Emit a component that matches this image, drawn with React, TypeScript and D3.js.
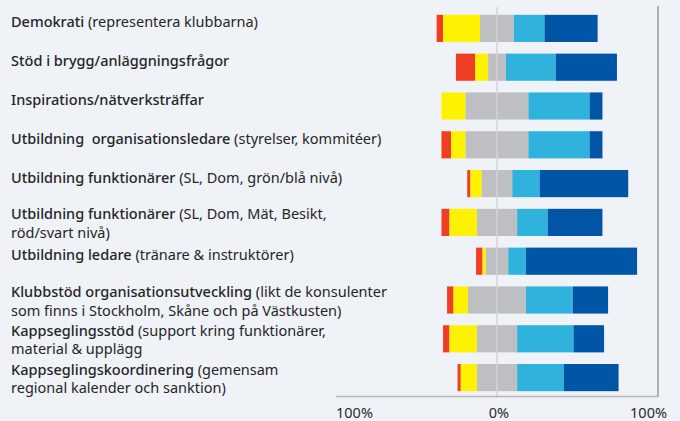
import * as d3 from 'd3'

const W = 680, H = 421

// each row: bold lead, regular rest, optional second line
const labelBold = [
  'Demokrati',
  'Stöd i brygg/anläggningsfrågor',
  'Inspirations/nätverksträffar',
  'Utbildning  organisationsledare',
  'Utbildning funktionärer',
  'Utbildning funktionärer',
  'Utbildning ledare',
  'Klubbstöd organisationsutveckling',
  'Kappseglingsstöd',
  'Kappseglingskoordinering',
]
const labelRest = [
  ' (representera klubbarna)',
  '',
  '',
  ' (styrelser, kommitéer)',
  ' (SL, Dom, grön/blå nivå)',
  ' (SL, Dom, Mät, Besikt,',
  ' (tränare & instruktörer)',
  ' (likt de konsulenter',
  ' (support kring funktionärer,',
  ' (gemensam',
]
const labelLine2 = [
  '', '', '', '', '',
  'röd/svart nivå)',
  '',
  'som finns i Stockholm, Skåne och på Västkusten)',
  'material & upplägg',
  'regional kalender och sanktion)',
]

// percent shares per row
const veryLow  = [4, 12, 0, 6, 2, 5, 4, 4, 4, 2]
const low      = [23, 8, 15, 9, 7, 17, 2, 9, 17, 10]
const neutral  = [21, 11, 39, 39, 19, 25, 14, 36, 25, 25]
const high     = [19, 31, 38, 38, 17, 19, 11, 29, 35, 29]
const veryHigh = [33, 38, 8, 8, 55, 34, 69, 22, 19, 34]

const seriesColors = ['#f03e25', '#fff200', '#bebfc3', '#2fb2dc', '#0055a6']
const tickLabels = ['100%', '0%', '100%']

const FONT = '"Noto Sans", sans-serif'

export default function App() {
  const x = d3.scaleLinear([-100, 100], [336, 658])
  const y = d3.scaleBand<number>(d3.range(labelBold.length), [9, 397]).paddingInner(0.3).paddingOuter(0.15)
  const bh = y.bandwidth()

  const rows = labelBold.map((_, i) => {
    const vals = [veryLow[i], low[i], neutral[i], high[i], veryHigh[i]]
    let start = -(veryLow[i] + low[i] + neutral[i] / 2)
    const segs = vals.map((v, k) => {
      const s = { x0: start, x1: start + v, color: seriesColors[k] }
      start += v
      return s
    })
    return { i, segs }
  })

  return (
    <div style={{ position: 'fixed', left: 0, top: 0 }}>
      <svg width={W} height={H} style={{ display: 'block', background: '#eff2f7' }}>
        {/* bars */}
        {rows.map((r) =>
          r.segs.filter((s) => s.x1 > s.x0).map((s, k) => (
            <rect key={r.i + '-' + k} x={x(s.x0)} y={y(r.i)} width={x(s.x1) - x(s.x0)} height={bh} fill={s.color} />
          ))
        )}

        {/* frame */}
        <line x1={x(0)} x2={x(0)} y1={7} y2={396} stroke="#d3d4d7" strokeWidth={1.5} />
        <line x1={x(100)} x2={x(100)} y1={6} y2={397} stroke="#aeb0b3" strokeWidth={2} />
        <line x1={x(-100)} x2={x(100)} y1={396.5} y2={396.5} stroke="#b4b6b9" strokeWidth={1.5} />

        {/* tick labels */}
        <g fontFamily={FONT} fontSize={14.5} fill="#2a2a2a">
          <text x={x(-100)} y={418} textAnchor="start">{tickLabels[0]}</text>
          <text x={x(0) + 2} y={418} textAnchor="middle">{tickLabels[1]}</text>
          <text x={x(100) + 9} y={418} textAnchor="end">{tickLabels[2]}</text>
        </g>

        {/* row labels */}
        <g fontFamily={FONT} fontSize={14.5} fill="#262626">
          {labelBold.map((b, i) => {
            const c = y(i)! + bh / 2
            const two = labelLine2[i] !== ''
            const base = two ? c - 3 : c - 1
            return (
              <g key={i}>
                <text x={11} y={base} style={{ whiteSpace: 'pre' }}>
                  <tspan fontWeight={500}>{b}</tspan>
                  <tspan fontWeight={400}>{labelRest[i]}</tspan>
                </text>
                {two && <text x={11} y={base + 18.5}>{labelLine2[i]}</text>}
              </g>
            )
          })}
        </g>
      </svg>
    </div>
  )
}
